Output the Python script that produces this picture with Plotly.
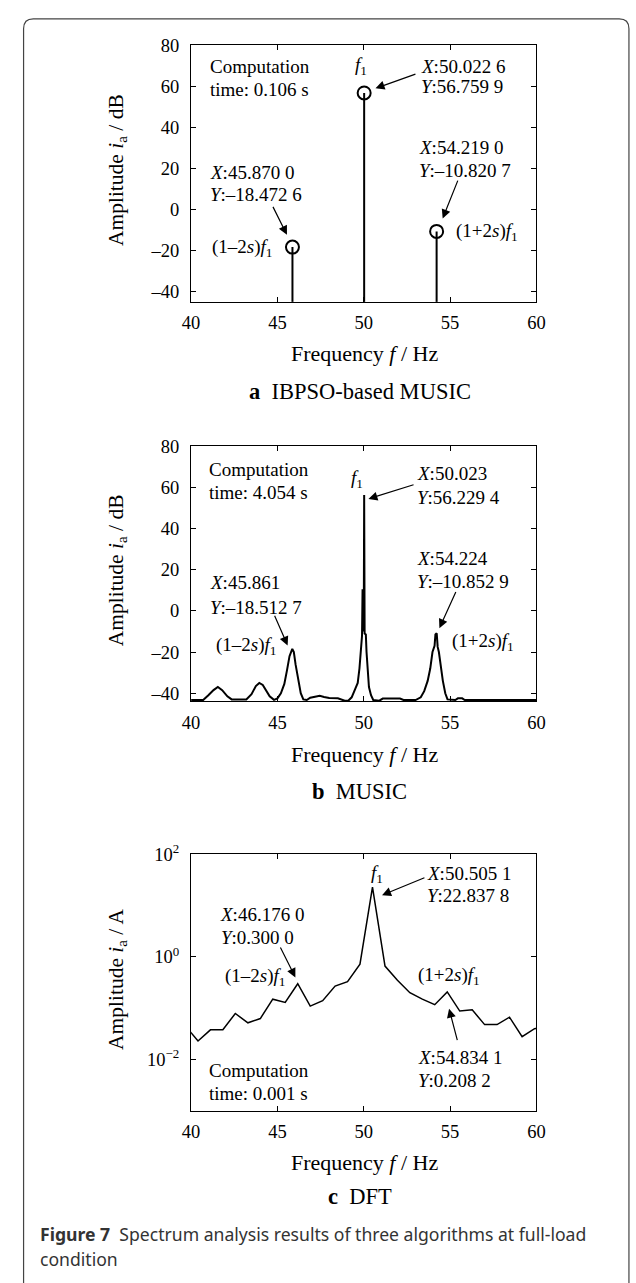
import plotly.graph_objects as go

# ---------------- data ----------------
# (a) IBPSO-based MUSIC: detected components
a_freq = [45.8700, 50.0226, 54.2190]
a_amp = [-18.4726, 56.7599, -10.8207]

# (b) MUSIC pseudo-spectrum
music_freq = [40.0, 40.7, 41.0, 41.3, 41.55, 41.8, 42.1, 42.35, 43.2, 43.5, 43.75, 43.95,
              44.15, 44.35, 44.55, 44.8, 45.0, 45.2, 45.4, 45.55, 45.7, 45.861, 45.95, 46.05,
              46.2, 46.35, 46.5, 46.7, 46.9, 47.2, 47.45, 47.7, 48.0, 48.5, 48.9, 49.1, 49.3,
              49.5, 49.65, 49.75, 49.83, 49.9, 49.93, 49.96, 50.0, 50.023, 50.05, 50.12, 50.16,
              50.22, 50.3, 50.42, 50.55, 50.9, 51.1, 52.1, 52.3, 53.0, 53.3, 53.5, 53.7, 53.85,
              53.98, 54.1, 54.15, 54.224, 54.28, 54.35, 54.45, 54.58, 54.72, 54.85, 55.3, 55.45,
              55.7, 55.85, 60.0]
music_amp = [-43.3, -43.3, -41.0, -38.5, -37.0, -38.5, -41.5, -43.0, -43.0, -40.5, -36.5, -35.0,
             -36.0, -38.5, -41.5, -43.2, -42.5, -40.0, -35.5, -29.0, -22.0, -18.5127, -20.0, -26.0,
             -34.0, -40.0, -43.0, -43.3, -42.2, -41.8, -41.2, -41.8, -42.3, -42.5, -43.6, -43.6, -42.0,
             -38.0, -35.0, -28.0, -20.0, -12.0, 10.5, -10.0, -5.0, 56.2294, -11.0, -11.5, -20.0,
             -30.0, -37.0, -41.0, -43.3, -43.6, -42.6, -42.6, -43.3, -43.3, -42.0, -39.0, -34.0, -28.0,
             -20.0, -17.0, -11.5, -10.8529, -17.5, -20.0, -27.0, -34.0, -40.0, -43.0, -43.3, -42.5,
             -42.5, -43.3, -43.3]

# (c) DFT spectrum
dft_freq = [39.68, 40.40, 41.12, 41.84, 42.56, 43.29, 44.01, 44.73, 45.45, 46.176, 46.90, 47.62,
            48.34, 49.06, 49.78, 50.5051, 51.23, 51.95, 52.67, 53.39, 54.11, 54.8341, 55.56, 56.28,
            57.00, 57.72, 58.44, 59.17, 59.89, 60.61]
dft_amp = [0.045, 0.023, 0.038, 0.038, 0.079, 0.052, 0.063, 0.15, 0.13, 0.300, 0.11, 0.14,
           0.27, 0.33, 0.72, 22.8378, 0.66, 0.35, 0.20, 0.15, 0.117, 0.2082, 0.088, 0.093,
           0.048, 0.048, 0.067, 0.028, 0.040, 0.045]

x_ticks = [40, 45, 50, 55, 60]
db_ticks = [-40, -20, 0, 20, 40, 60, 80]
db_ticktext = ["\u201340", "\u201320", "0", "20", "40", "60", "80"]
log_ticks = [0.01, 1, 100]
log_ticktext = ["10<sup>\u22122</sup>", "10<sup>0</sup>", "10<sup>2</sup>"]

# ---------------- layout helpers ----------------
W, H = 636, 1283
SERIF = "Liberation Serif"
SANS = "Noto Sans"


def px(p):
    return p / W


def py(p):
    return 1 - p / H


X_L, X_R = 187.4, 542.8
panels = {
    "a": (32.7, 292.3, [-45.2, 80]),
    "b": (438.3, 696.6, [-44.0, 80]),
    "c": (851.0, 1111.0, [-3, 2]),
}

fig = go.Figure()

# (a) stems + circles
a_base = panels["a"][2][0]
stem_x, stem_y = [], []
for f, v in zip(a_freq, a_amp):
    stem_x += [f, f, None]
    stem_y += [a_base, v, None]
fig.add_trace(go.Scatter(x=stem_x, y=stem_y, mode="lines",
                         line=dict(color="black", width=2), xaxis="x", yaxis="y",
                         showlegend=False, hoverinfo="skip"))
fig.add_trace(go.Scatter(x=a_freq, y=a_amp, mode="markers",
                         marker=dict(symbol="circle-open", size=13, color="black",
                                     line=dict(width=2, color="black")),
                         xaxis="x", yaxis="y", showlegend=False))
# (b) MUSIC curve
fig.add_trace(go.Scatter(x=music_freq, y=music_amp, mode="lines",
                         line=dict(color="black", width=2), xaxis="x2", yaxis="y2",
                         showlegend=False))
# (c) DFT curve
fig.add_trace(go.Scatter(x=dft_freq, y=dft_amp, mode="lines",
                         line=dict(color="black", width=1.5), xaxis="x3", yaxis="y3",
                         showlegend=False))

axis_common = dict(showline=True, linecolor="black", linewidth=1.3, mirror="ticks",
                   ticks="inside", ticklen=5, tickwidth=1.2, tickcolor="black",
                   showgrid=False, zeroline=False,
                   tickfont=dict(family=SERIF, size=18.5, color="black"))

layout = dict(width=W, height=H, margin=dict(l=0, r=0, t=0, b=0),
              paper_bgcolor="white", plot_bgcolor="white", showlegend=False)

for i, key in enumerate(["a", "b", "c"]):
    top, bot, yr = panels[key]
    sx = "" if i == 0 else str(i + 1)
    layout["xaxis" + sx] = dict(axis_common, domain=[px(X_L), px(X_R)], range=[40, 60],
                                tickvals=x_ticks, anchor="y" + sx, ticklabelstandoff=4)
    ydict = dict(axis_common, domain=[py(bot), py(top)], range=yr, anchor="x" + sx,
                 ticklabelstandoff=7)
    if key == "c":
        ydict.update(type="log", tickvals=log_ticks, ticktext=log_ticktext)
    else:
        ydict.update(tickvals=db_ticks, ticktext=db_ticktext)
    layout["yaxis" + sx] = ydict

fig.update_layout(**layout)

ann = []


def text(x, y, t, xref, yref, anchor="left", size=19):
    ann.append(dict(x=x, y=y, xref=xref, yref=yref, text=t, showarrow=False,
                    xanchor=anchor, yanchor="middle",
                    font=dict(family=SERIF, size=size, color="black")))


def arrow(x0, y0, x1, y1, xref, yref):
    ann.append(dict(x=x1, y=y1, ax=x0, ay=y0, xref=xref, yref=yref, axref=xref, ayref=yref,
                    text="", showarrow=True, arrowhead=2, arrowsize=1.5, arrowwidth=1.2,
                    arrowcolor="black"))


F1 = "<i>f</i><sub>1</sub>"
LOW = "(1\u20132<i>s</i>)<i>f</i><sub>1</sub>"
HIGH = "(1+2<i>s</i>)<i>f</i><sub>1</sub>"

# panel a
text(41.0, 69.6, "Computation", "x", "y")
text(41.0, 58.3, "time: 0.106 s", "x", "y")
text(49.84, 69.9, F1, "x", "y", "center")
text(53.2, 69.9, "<i>X</i>:50.022 6", "x", "y")
text(53.2, 60.0, "<i>Y</i>:56.759 9", "x", "y")
arrow(53.08, 66.2, 50.68, 59.0, "x", "y")
text(40.98, 17.9, "<i>X</i>:45.870 0", "x", "y")
text(40.98, 7.3, "<i>Y</i>:\u201318.472 6", "x", "y")
arrow(44.7, 1.9, 45.55, -12.5, "x", "y")
text(41.1, -18.9, LOW, "x", "y")
text(53.08, 29.9, "<i>X</i>:54.219 0", "x", "y")
text(53.08, 18.9, "<i>Y</i>:\u201310.820 7", "x", "y")
arrow(55.48, 14.7, 54.57, -4.5, "x", "y")
text(55.2, -10.9, HIGH, "x", "y")

# panel b
text(40.94, 68.5, "Computation", "x2", "y2")
text(40.94, 57.6, "time: 4.054 s", "x2", "y2")
text(49.6, 64.2, F1, "x2", "y2", "center")
text(52.94, 66.7, "<i>X</i>:50.023", "x2", "y2")
text(52.94, 55.2, "<i>Y</i>:56.229 4", "x2", "y2")
arrow(52.97, 61.5, 50.27, 54.4, "x2", "y2")
text(41.0, 13.9, "<i>X</i>:45.861", "x2", "y2")
text(41.0, 1.6, "<i>Y</i>:\u201318.512 7", "x2", "y2")
arrow(44.8, -1.6, 45.59, -16.8, "x2", "y2")
text(41.33, -17.0, LOW, "x2", "y2")
text(52.97, 25.2, "<i>X</i>:54.224", "x2", "y2")
text(52.97, 14.2, "<i>Y</i>:\u201310.852 9", "x2", "y2")
arrow(55.37, 9.9, 54.38, -8.4, "x2", "y2")
text(54.98, -15.1, HIGH, "x2", "y2")

# panel c (log axis: positions in log10 units)
text(40.91, -2.21, "Computation", "x3", "y3")
text(40.91, -2.66, "time: 0.001 s", "x3", "y3")
text(50.76, 1.62, F1, "x3", "y3", "center")
text(53.57, 1.63, "<i>X</i>:50.505 1", "x3", "y3")
text(53.57, 1.20, "<i>Y</i>:22.837 8", "x3", "y3")
arrow(53.6, 1.55, 51.06, 1.2, "x3", "y3")
text(41.55, 0.83, "<i>X</i>:46.176 0", "x3", "y3")
text(41.6, 0.37, "<i>Y</i>:0.300 0", "x3", "y3")
arrow(45.13, 0.21, 46.04, -0.40, "x3", "y3")
text(41.82, -0.40, LOW, "x3", "y3")
text(53.04, -0.37, HIGH, "x3", "y3")
arrow(55.44, -1.65, 54.94, -1.01, "x3", "y3")
text(53.04, -1.96, "<i>X</i>:54.834 1", "x3", "y3")
text(53.04, -2.40, "<i>Y</i>:0.208 2", "x3", "y3")

# axis titles and sub-captions (paper coordinates)
y_titles = ["Amplitude <i>i</i><sub>a</sub> / dB", "Amplitude <i>i</i><sub>a</sub> / dB",
            "Amplitude <i>i</i><sub>a</sub> / A"]
x_title_y = [345, 750, 1163]
caps = ["<b>a</b>  IBPSO-based MUSIC", "<b>b</b>  MUSIC", "<b>c</b>  DFT"]
cap_y = [383, 788, 1197]
for i, key in enumerate(["a", "b", "c"]):
    top, bot, _ = panels[key]
    ann.append(dict(x=px(111.6), y=py((top + bot) / 2 - 4), xref="paper", yref="paper",
                    text=y_titles[i], textangle=-90, showarrow=False,
                    xanchor="center", yanchor="middle",
                    font=dict(family=SERIF, size=21.5, color="black")))
    ann.append(dict(x=px(366), y=py(x_title_y[i]), xref="paper", yref="paper",
                    text="Frequency <i>f</i> / Hz", showarrow=False,
                    xanchor="center", yanchor="middle",
                    font=dict(family=SERIF, size=22, color="black")))
    ann.append(dict(x=px(361), y=py(cap_y[i]), xref="paper", yref="paper",
                    text=caps[i], showarrow=False, xanchor="center", yanchor="middle",
                    font=dict(family=SERIF, size=22.5, color="black")))

ann.append(dict(x=px(30), y=py(1235), xref="paper", yref="paper",
                text="<b>Figure 7</b>  Spectrum analysis results of three algorithms at full-load",
                showarrow=False, xanchor="left", yanchor="middle",
                font=dict(family=SANS, size=17.6, color="#333333")))
ann.append(dict(x=px(30), y=py(1261), xref="paper", yref="paper",
                text="condition", showarrow=False, xanchor="left", yanchor="middle",
                font=dict(family=SANS, size=17.6, color="#333333")))

fig.update_layout(annotations=ann)

# outer rounded frame
frame_path = (f"M {px(15)} {py(1300)} L {px(15)} {py(16)} Q {px(15)} {py(6)} {px(25)} {py(6)} "
              f"L {px(628)} {py(6)} Q {px(638)} {py(6)} {px(638)} {py(16)} L {px(638)} {py(1300)}")
fig.add_shape(type="path", path=frame_path, xref="paper", yref="paper",
              line=dict(color="#444444", width=1.2))

fig.write_html("out.html")
